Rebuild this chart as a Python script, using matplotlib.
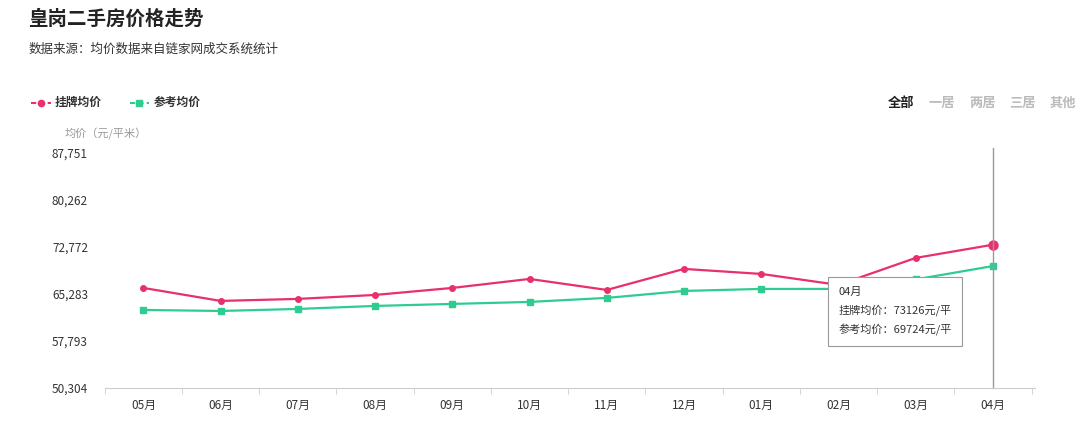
import matplotlib
matplotlib.use("Agg")
import matplotlib.pyplot as plt

plt.rcParams['font.family'] = ['Noto Sans CJK SC', 'DejaVu Sans']

months = ["05月","06月","07月","08月","09月","10月","11月","12月","01月","02月","03月","04月"]
listing = [66240, 64170, 64490, 65120, 66240, 67670, 65920, 69270, 68470, 66720, 71020, 73126]
reference = [62730, 62570, 62890, 63370, 63690, 64010, 64650, 65760, 66080, 66080, 67600, 69724]
yticks = [50304, 57793, 65283, 72772, 80262, 87751]
tabs = ["全部", "一居", "两居", "三居", "其他"]

fig = plt.figure(figsize=(10.8, 4.32), dpi=100)
ax = fig.add_axes([0.097, 0.102, 0.861, 0.544])
x = list(range(len(months)))
red, green = '#e8306a', '#2ecc91'
ax.plot(x, listing, color=red, lw=1.6, marker='o', ms=4)
ax.plot(x, reference, color=green, lw=1.6, marker='s', ms=4.5)
ax.plot([x[-1]], [listing[-1]], 'o', color=red, ms=6.5)
ax.set_ylim(50304, 87751)
ax.set_xlim(-0.46, 11.54)
ax.set_yticks(yticks)
ax.set_yticklabels([f"{v:,}" for v in yticks], fontsize=8.5, color='#333')
ax.set_xticks(x)
ax.set_xticklabels(months, fontsize=8.5, color='#333')
ax.set_xticks([i + 0.5 for i in range(-1, 12)], minor=True)
ax.tick_params(axis='x', which='major', length=0, pad=8)
ax.tick_params(axis='x', which='minor', length=4, color='#ccc')
ax.tick_params(axis='y', length=0, pad=38)
for lbl in ax.get_yticklabels():
    lbl.set_horizontalalignment('left')
for s in ['top', 'right', 'left']:
    ax.spines[s].set_visible(False)
ax.spines['bottom'].set_color('#ccc')
ax.axvline(x[-1], color='#999', lw=1, ymax=1.02, clip_on=False)

# tooltip
ax.text(9.0, 62500, "04月\n挂牌均价：73126元/平\n参考均价：69724元/平", fontsize=8, color='#333',
        linespacing=1.8, va='center', ha='left',
        bbox=dict(boxstyle='square,pad=0.9', fc='white', ec='#999', lw=0.8), zorder=10)

fig.text(0.026, 0.955, "皇岗二手房价格走势", fontsize=14, fontweight='bold', color='#222', va='center')
fig.text(0.026, 0.885, "数据来源：均价数据来自链家网成交系统统计", fontsize=9, color='#333', va='center')
fig.text(0.06, 0.69, "均价（元/平米）", fontsize=8, color='#999', va='center')

# legend
ly = 0.762
fig.add_artist(plt.Line2D([0.029, 0.047], [ly, ly], color=red, ls=(0, (2.5, 1.5)), lw=1.5, transform=fig.transFigure))
fig.add_artist(plt.Line2D([0.038], [ly], color=red, marker='o', ms=4.5, transform=fig.transFigure))
fig.text(0.051, ly, "挂牌均价", fontsize=8.5, fontweight='bold', color='#333', va='center')
fig.add_artist(plt.Line2D([0.12, 0.138], [ly, ly], color=green, ls=(0, (2.5, 1.5)), lw=1.5, transform=fig.transFigure))
fig.add_artist(plt.Line2D([0.129], [ly], color=green, marker='s', ms=4.5, transform=fig.transFigure))
fig.text(0.142, ly, "参考均价", fontsize=8.5, fontweight='bold', color='#333', va='center')

for i, t in enumerate(tabs):
    fig.text(0.822 + i * 0.0375, ly, t, fontsize=9.5, fontweight='bold',
             color='#222' if i == 0 else '#bbb', va='center')

fig.savefig("out.png", dpi=100)
